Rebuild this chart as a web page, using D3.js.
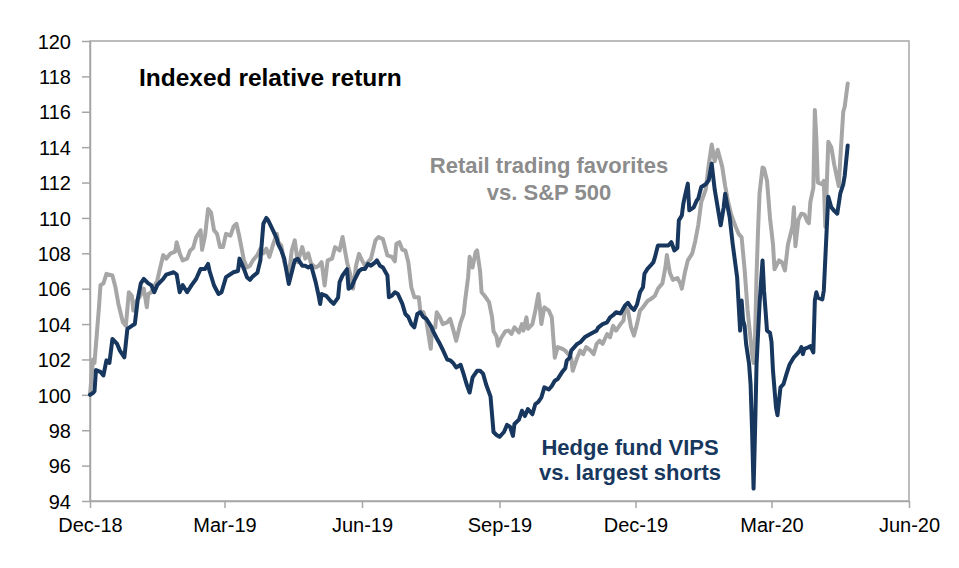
<!DOCTYPE html>
<html>
<head>
<meta charset="utf-8">
<script src="https://cdn.jsdelivr.net/npm/d3@7"></script>
<style>
  html, body { margin: 0; padding: 0; background: #ffffff; }
  svg { display: block; font-family: "Liberation Sans", Arial, Helvetica, sans-serif; }
</style>
</head>
<body>
<svg id="chart" width="959" height="568"></svg>
<script>
// ---------------- DATA ----------------
const yTickValues = [94, 96, 98, 100, 102, 104, 106, 108, 110, 112, 114, 116, 118, 120];
const xTickLabels = ["Dec-18", "Mar-19", "Jun-19", "Sep-19", "Dec-19", "Mar-20", "Jun-20"];
const xDomain = ["2018-12-01", "2020-06-01"];
const yDomain = [94, 120];

const chartTitle = "Indexed relative return";
const retailLabel = ["Retail trading favorites", "vs. S&P 500"];
const hedgeLabel = ["Hedge fund VIPS", "vs. largest shorts"];

// Retail trading favorites vs. S&P 500 (grey)
const retailSeries = [
["2018-12-01",100.0],["2018-12-03",102.0],["2018-12-04",101.8],["2018-12-07",104.95],["2018-12-08",106.2],
["2018-12-10",106.3],["2018-12-12",106.84],["2018-12-16",106.75],["2018-12-18",106.1],["2018-12-20",105.14],
["2018-12-23",104.1],["2018-12-25",103.9],["2018-12-27",105.8],["2018-12-29",105.6],["2018-12-30",104.76],
["2019-01-01",105.3],["2019-01-03",105.5],["2019-01-06",106.0],["2019-01-08",104.95],["2019-01-09",105.7],
["2019-01-11",105.8],["2019-01-15",106.46],["2019-01-17",107.2],["2019-01-19",107.9],["2019-01-21",107.7],
["2019-01-24",108.0],["2019-01-27",108.1],["2019-01-28",108.63],["2019-01-30",108.0],["2019-02-01",107.6],
["2019-02-04",107.7],["2019-02-06",108.16],["2019-02-08",108.3],["2019-02-10",108.9],["2019-02-13",109.3],
["2019-02-14",108.2],["2019-02-16",109.0],["2019-02-18",110.5],["2019-02-20",110.3],["2019-02-22",109.3],
["2019-02-24",109.1],["2019-02-26",108.35],["2019-02-28",108.35],["2019-03-02",109.1],["2019-03-05",109.0],
["2019-03-07",109.5],["2019-03-09",109.67],["2019-03-11",108.92],["2019-03-14",107.6],["2019-03-16",107.2],
["2019-03-18",107.3],["2019-03-20",107.6],["2019-03-23",107.9],["2019-03-25",108.26],["2019-03-27",108.0],
["2019-03-29",108.26],["2019-03-31",107.8],["2019-04-03",108.63],["2019-04-05",109.1],["2019-04-06",108.63],
["2019-04-08",108.44],["2019-04-10",107.5],["2019-04-13",106.75],["2019-04-15",108.16],["2019-04-17",108.73],
["2019-04-19",107.5],["2019-04-22",108.35],["2019-04-24",107.7],["2019-04-26",108.0],["2019-04-28",107.4],
["2019-05-01",107.2],["2019-05-03",107.3],["2019-05-05",107.5],["2019-05-07",106.18],["2019-05-09",107.6],
["2019-05-12",107.7],["2019-05-14",108.35],["2019-05-17",108.16],["2019-05-19",108.92],["2019-05-22",107.5],
["2019-05-24",106.84],["2019-05-26",106.0],["2019-05-28",107.3],["2019-05-30",107.97],["2019-06-01",107.6],
["2019-06-03",107.3],["2019-06-05",107.5],["2019-06-07",107.7],["2019-06-10",108.73],["2019-06-12",108.92],
["2019-06-15",108.8],["2019-06-18",107.88],["2019-06-21",107.8],["2019-06-23",107.55],["2019-06-24",108.54],
["2019-06-26",108.63],["2019-06-28",108.2],["2019-06-30",108.16],["2019-07-02",107.5],["2019-07-04",106.08],
["2019-07-06",105.52],["2019-07-09",105.52],["2019-07-10",104.76],["2019-07-12",104.67],["2019-07-14",104.2],
["2019-07-17",102.6],["2019-07-18",103.8],["2019-07-20",103.8],["2019-07-21",104.67],["2019-07-23",104.4],
["2019-07-25",104.0],["2019-07-28",104.1],["2019-07-30",104.29],["2019-08-01",103.7],["2019-08-03",103.06],
["2019-08-06",104.1],["2019-08-08",104.57],["2019-08-09",105.33],["2019-08-11",106.65],["2019-08-12",107.8],
["2019-08-14",107.2],["2019-08-16",108.07],["2019-08-17",108.16],["2019-08-19",107.0],["2019-08-20",105.8],
["2019-08-22",105.6],["2019-08-25",105.24],["2019-08-27",104.4],["2019-08-28",103.6],["2019-08-30",103.3],
["2019-08-31",102.78],["2019-09-02",103.2],["2019-09-05",103.6],["2019-09-07",103.63],["2019-09-09",103.44],
["2019-09-11",103.82],["2019-09-14",103.53],["2019-09-16",104.0],["2019-09-17",103.63],["2019-09-19",104.38],
["2019-09-20",103.73],["2019-09-23",104.0],["2019-09-25",104.76],["2019-09-27",105.7],["2019-09-28",104.95],
["2019-09-29",104.0],["2019-10-01",104.95],["2019-10-04",104.76],["2019-10-06",104.38],["2019-10-07",103.25],
["2019-10-08",102.1],["2019-10-10",102.7],["2019-10-13",102.6],["2019-10-15",102.5],["2019-10-17",102.3],
["2019-10-19",102.1],["2019-10-20",101.36],["2019-10-23",102.1],["2019-10-25",102.5],["2019-10-27",102.3],
["2019-10-29",102.7],["2019-11-01",102.5],["2019-11-03",102.3],["2019-11-05",102.88],["2019-11-07",103.06],
["2019-11-09",102.88],["2019-11-12",103.44],["2019-11-14",103.25],["2019-11-16",103.9],["2019-11-18",103.63],
["2019-11-21",104.0],["2019-11-23",104.2],["2019-11-24",104.95],["2019-11-26",104.76],["2019-11-28",103.82],
["2019-11-30",103.35],["2019-12-02",104.0],["2019-12-04",104.76],["2019-12-06",104.95],["2019-12-09",105.3],
["2019-12-11",105.4],["2019-12-14",105.6],["2019-12-16",106.0],["2019-12-19",106.3],["2019-12-21",107.2],
["2019-12-22",107.9],["2019-12-24",106.9],["2019-12-26",106.5],["2019-12-29",106.6],["2019-12-31",106.3],
["2020-01-01",106.0],["2020-01-03",106.9],["2020-01-05",107.6],["2020-01-08",108.0],["2020-01-10",108.7],
["2020-01-12",109.6],["2020-01-14",110.9],["2020-01-17",111.6],["2020-01-19",113.0],["2020-01-21",114.15],
["2020-01-23",113.2],["2020-01-25",113.85],["2020-01-28",112.9],["2020-01-30",111.8],["2020-02-01",110.9],
["2020-02-03",110.2],["2020-02-06",109.5],["2020-02-08",109.1],["2020-02-10",108.9],["2020-02-12",107.1],
["2020-02-14",104.8],["2020-02-17",102.3],["2020-02-18",101.8],["2020-02-19",103.3],["2020-02-20",106.8],
["2020-02-21",109.3],["2020-02-22",111.4],["2020-02-24",112.85],["2020-02-25",112.8],["2020-02-27",112.1],
["2020-02-29",110.0],["2020-03-02",108.5],["2020-03-03",107.1],["2020-03-06",107.6],["2020-03-08",107.5],
["2020-03-10",107.03],["2020-03-12",108.5],["2020-03-15",109.5],["2020-03-16",110.6],["2020-03-17",108.4],
["2020-03-19",109.9],["2020-03-21",110.24],["2020-03-23",110.2],["2020-03-25",109.8],["2020-03-26",109.7],
["2020-03-27",110.9],["2020-03-29",111.7],["2020-03-30",116.1],["2020-03-31",114.5],["2020-04-01",112.0],
["2020-04-04",111.9],["2020-04-05",112.1],["2020-04-06",109.5],["2020-04-08",114.3],["2020-04-10",114.0],
["2020-04-12",113.0],["2020-04-15",111.8],["2020-04-16",113.3],["2020-04-18",116.0],["2020-04-19",116.3],
["2020-04-21",117.6]
];

// Hedge fund VIPS vs. largest shorts (navy)
const hedgeSeries = [
["2018-12-01",100.0],["2018-12-03",100.1],["2018-12-04",100.2],["2018-12-05",101.4],["2018-12-08",101.3],
["2018-12-10",101.1],["2018-12-12",101.95],["2018-12-14",101.8],["2018-12-16",103.16],["2018-12-19",102.9],
["2018-12-21",102.5],["2018-12-24",102.12],["2018-12-26",103.73],["2018-12-29",103.9],["2018-12-31",104.0],
["2019-01-02",105.42],["2019-01-04",106.3],["2019-01-06",106.55],["2019-01-09",106.3],["2019-01-11",106.2],
["2019-01-13",105.8],["2019-01-15",106.2],["2019-01-19",106.55],["2019-01-21",106.8],["2019-01-26",106.93],
["2019-01-28",106.8],["2019-01-30",105.8],["2019-02-01",106.2],["2019-02-04",105.8],["2019-02-07",106.2],
["2019-02-10",106.55],["2019-02-13",107.12],["2019-02-16",107.12],["2019-02-18",107.4],["2019-02-19",107.0],
["2019-02-22",106.18],["2019-02-25",105.7],["2019-02-27",105.8],["2019-03-02",106.65],["2019-03-07",106.93],
["2019-03-10",107.0],["2019-03-11",107.7],["2019-03-14",107.12],["2019-03-16",106.65],["2019-03-18",106.5],
["2019-03-20",106.7],["2019-03-23",106.9],["2019-03-25",107.6],["2019-03-27",109.67],["2019-03-29",110.0],
["2019-03-30",109.9],["2019-04-03",109.2],["2019-04-05",108.82],["2019-04-06",108.5],["2019-04-08",108.16],
["2019-04-10",107.69],["2019-04-13",106.27],["2019-04-15",106.93],["2019-04-17",107.6],["2019-04-19",107.69],
["2019-04-22",107.3],["2019-04-24",107.3],["2019-04-26",107.2],["2019-04-28",107.3],["2019-05-01",106.37],
["2019-05-03",105.6],["2019-05-04",105.14],["2019-05-05",105.7],["2019-05-08",105.6],["2019-05-11",105.3],
["2019-05-13",105.14],["2019-05-16",105.5],["2019-05-17",106.37],["2019-05-19",106.75],["2019-05-22",107.1],
["2019-05-23",106.0],["2019-05-25",106.1],["2019-05-27",106.5],["2019-05-30",107.0],["2019-06-01",107.12],
["2019-06-03",107.12],["2019-06-05",107.4],["2019-06-07",107.3],["2019-06-10",107.5],["2019-06-11",107.6],
["2019-06-13",107.3],["2019-06-15",107.2],["2019-06-18",106.75],["2019-06-19",105.52],["2019-06-21",105.6],
["2019-06-23",105.8],["2019-06-25",105.7],["2019-06-28",105.14],["2019-06-30",104.57],["2019-07-02",104.4],
["2019-07-04",104.0],["2019-07-06",103.82],["2019-07-08",104.57],["2019-07-10",104.67],["2019-07-12",104.4],
["2019-07-14",104.3],["2019-07-17",103.9],["2019-07-19",103.53],["2019-07-21",103.2],["2019-07-23",102.9],
["2019-07-25",102.55],["2019-07-28",102.0],["2019-07-30",101.95],["2019-08-01",101.8],["2019-08-03",101.55],
["2019-08-06",101.7],["2019-08-08",101.17],["2019-08-10",100.6],["2019-08-12",100.13],["2019-08-14",100.99],
["2019-08-17",101.36],["2019-08-19",101.36],["2019-08-21",101.2],["2019-08-23",100.6],["2019-08-26",99.9],
["2019-08-27",98.9],["2019-08-28",97.9],["2019-08-30",97.73],["2019-09-01",97.63],["2019-09-04",97.9],
["2019-09-06",98.3],["2019-09-08",98.2],["2019-09-10",97.68],["2019-09-11",98.35],["2019-09-14",98.6],
["2019-09-16",99.1],["2019-09-18",98.8],["2019-09-20",99.2],["2019-09-23",98.9],["2019-09-25",99.48],
["2019-09-27",99.6],["2019-09-29",99.85],["2019-10-01",100.42],["2019-10-04",100.3],["2019-10-06",100.5],
["2019-10-08",100.8],["2019-10-10",100.9],["2019-10-13",101.3],["2019-10-15",101.5],["2019-10-16",101.93],
["2019-10-18",102.1],["2019-10-19",102.5],["2019-10-23",102.88],["2019-10-25",102.97],["2019-10-28",103.25],
["2019-10-30",103.35],["2019-11-02",103.5],["2019-11-05",103.63],["2019-11-06",103.8],["2019-11-09",104.0],
["2019-11-12",104.1],["2019-11-14",104.38],["2019-11-16",104.5],["2019-11-18",104.67],["2019-11-21",104.6],
["2019-11-24",105.05],["2019-11-26",105.2],["2019-11-28",104.95],["2019-11-30",104.8],["2019-12-02",105.1],
["2019-12-04",105.8],["2019-12-06",106.08],["2019-12-07",106.84],["2019-12-09",107.12],["2019-12-11",107.3],
["2019-12-13",107.5],["2019-12-14",107.78],["2019-12-16",108.44],["2019-12-19",108.44],["2019-12-21",108.44],
["2019-12-23",108.44],["2019-12-25",108.63],["2019-12-27",108.16],["2019-12-29",108.3],["2019-12-30",109.86],
["2020-01-01",110.14],["2020-01-02",110.8],["2020-01-03",111.2],["2020-01-05",111.94],["2020-01-06",110.43],
["2020-01-09",110.6],["2020-01-11",110.99],["2020-01-12",111.1],["2020-01-14",111.75],["2020-01-17",111.9],
["2020-01-19",112.13],["2020-01-21",113.07],["2020-01-22",112.31],["2020-01-23",111.6],["2020-01-25",110.6],
["2020-01-27",109.58],["2020-01-29",110.6],["2020-01-30",111.37],["2020-01-31",110.9],["2020-02-02",110.05],
["2020-02-04",108.54],["2020-02-07",106.65],["2020-02-08",105.14],["2020-02-09",103.63],["2020-02-10",105.33],
["2020-02-11",104.2],["2020-02-12",103.9],["2020-02-13",102.88],["2020-02-15",101.74],["2020-02-16",100.6],
["2020-02-17",97.97],["2020-02-18",94.7],["2020-02-19",97.97],["2020-02-20",101.74],["2020-02-22",105.14],
["2020-02-24",107.6],["2020-02-25",105.9],["2020-02-27",103.63],["2020-02-29",103.5],["2020-03-01",103.0],
["2020-03-02",101.36],["2020-03-04",99.29],["2020-03-05",98.85],["2020-03-07",100.42],["2020-03-09",100.6],
["2020-03-11",101.17],["2020-03-13",101.7],["2020-03-16",102.12],["2020-03-18",102.3],["2020-03-20",102.5],
["2020-03-21",102.7],["2020-03-22",102.3],["2020-03-23",102.6],["2020-03-26",102.7],["2020-03-27",102.75],
["2020-03-29",102.4],["2020-03-30",105.33],["2020-03-31",105.8],["2020-04-01",105.5],["2020-04-04",105.4],
["2020-04-05",105.9],["2020-04-07",109.48],["2020-04-08",111.2],["2020-04-10",110.6],["2020-04-12",110.4],
["2020-04-14",110.24],["2020-04-16",111.37],["2020-04-18",111.9],["2020-04-19",112.4],["2020-04-21",114.1]
];

// ---------------- CHART ----------------
const W = 959, H = 568;
const plot = { left: 90, right: 909, top: 41, bottom: 501 };
const colors = { retail: "#a6a6a6", hedge: "#17375e", retailText: "#8c8c8c", axis: "#a6a6a6", text: "#000000" };

const parseDate = d3.timeParse("%Y-%m-%d");
const parseTick = d3.timeParse("%b-%y");

const retail = retailSeries.map(([d, v]) => ({ date: parseDate(d), v }));
const hedge = hedgeSeries.map(([d, v]) => ({ date: parseDate(d), v }));

const x = d3.scaleTime().domain(xDomain.map(parseDate)).range([plot.left, plot.right]);
const y = d3.scaleLinear().domain(yDomain).range([plot.bottom, plot.top]);

const svg = d3.select("#chart");
svg.append("rect").attr("width", W).attr("height", H).attr("fill", "#ffffff");

// frame
svg.append("rect")
  .attr("x", plot.left).attr("y", plot.top)
  .attr("width", plot.right - plot.left).attr("height", plot.bottom - plot.top)
  .attr("fill", "none").attr("stroke", colors.axis).attr("stroke-width", 1.5);

// y axis
const yAxis = svg.append("g")
  .attr("transform", `translate(${plot.left},0)`)
  .call(d3.axisLeft(y).tickValues(yTickValues).tickSize(8).tickSizeOuter(0).tickPadding(11).tickFormat(d3.format("d")));
yAxis.select(".domain").attr("stroke", colors.axis).attr("stroke-width", 1.5);
yAxis.selectAll(".tick line").attr("stroke", colors.axis).attr("stroke-width", 1.5);
yAxis.selectAll(".tick text").attr("fill", colors.text).style("font-size", "20px")
  .attr("dy", "0.36em");

// x axis
const xAxis = svg.append("g")
  .attr("transform", `translate(0,${plot.bottom})`)
  .call(d3.axisBottom(x).tickValues(xTickLabels.map(parseTick)).tickSize(7).tickSizeOuter(0).tickPadding(10)
    .tickFormat(d3.timeFormat("%b-%y")));
xAxis.select(".domain").attr("stroke", colors.axis).attr("stroke-width", 1.5);
xAxis.selectAll(".tick line").attr("stroke", colors.axis).attr("stroke-width", 1.5);
xAxis.selectAll(".tick text").attr("fill", colors.text).style("font-size", "20px");

// lines
const line = d3.line().x(d => x(d.date)).y(d => y(d.v)).curve(d3.curveLinear);
svg.append("path").datum(retail)
  .attr("d", line).attr("fill", "none")
  .attr("stroke", colors.retail).attr("stroke-width", 4)
  .attr("stroke-linejoin", "round").attr("stroke-linecap", "round");
svg.append("path").datum(hedge)
  .attr("d", line).attr("fill", "none")
  .attr("stroke", colors.hedge).attr("stroke-width", 4)
  .attr("stroke-linejoin", "round").attr("stroke-linecap", "round");

// title
svg.append("text")
  .attr("x", 139).attr("y", 86)
  .attr("fill", colors.text)
  .style("font-size", "24.5px").style("font-weight", "bold")
  .text(chartTitle);

// annotations
const retailText = svg.append("text")
  .attr("text-anchor", "middle").attr("fill", colors.retailText)
  .style("font-size", "22px").style("font-weight", "bold");
retailLabel.forEach((t, i) => {
  retailText.append("tspan").attr("x", 549).attr("y", 173 + i * 27).text(t);
});

const hedgeText = svg.append("text")
  .attr("text-anchor", "middle").attr("fill", colors.hedge)
  .style("font-size", "22px").style("font-weight", "bold");
hedgeLabel.forEach((t, i) => {
  hedgeText.append("tspan").attr("x", 630).attr("y", 455 + i * 25).text(t);
});
</script>
</body>
</html>
